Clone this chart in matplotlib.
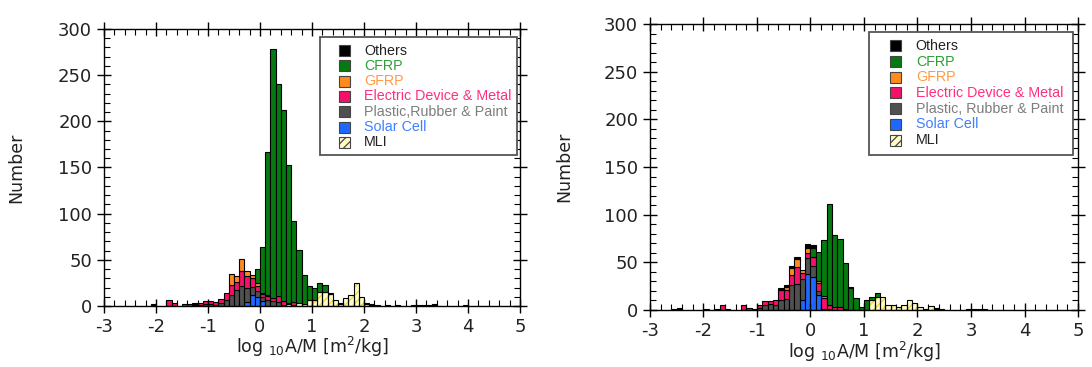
import numpy as np
import matplotlib.pyplot as plt
from matplotlib.patches import Rectangle
from matplotlib.ticker import MultipleLocator

plt.rcParams['font.family'] = ['DejaVu Sans']
plt.rcParams['axes.unicode_minus'] = False
plt.rcParams['hatch.linewidth'] = 0.9

# histogram bins of log10 A/M, width 0.1, from -3 to 5 (left edges)
edges = np.round(np.arange(-3.0, 5.0, 0.1), 1)

# ---- left panel: counts per bin (key = left edge of bin)
others_a = {-2.1: 2, -1.3: 1, 1.3: 1, 1.5: 1, 2.0: 1, 2.1: 1, 2.2: 1, 2.6: 1,
            2.9: 1, 3.0: 1, 3.1: 1, 3.2: 1, 3.3: 2, 3.9: 1}
cfrp_a = {-0.1: 15, 0.0: 50, 0.1: 155, 0.2: 269, 0.3: 229, 0.4: 207, 0.5: 150,
          0.6: 88, 0.7: 58, 0.8: 32, 0.9: 16, 1.0: 13, 1.1: 10, 1.2: 8, 2.4: 1}
gfrp_a = {-0.6: 12, -0.5: 7, -0.4: 13, -0.3: 6, -0.2: 4, -0.1: 3, 0.0: 1, 0.1: 1}
elec_a = {-1.8: 6, -1.7: 3, -1.5: 2, -1.4: 2, -1.3: 1, -1.2: 2, -1.1: 3, -1.0: 3,
          -0.9: 3, -0.8: 5, -0.7: 8, -0.6: 11, -0.5: 9, -0.4: 16, -0.3: 12,
          -0.2: 9, -0.1: 6, 0.0: 3, 0.1: 5, 0.2: 4, 0.3: 7, 0.4: 4, 0.6: 3}
plastic_a = {-1.3: 1, -1.2: 1, -1.1: 2, -1.0: 2, -0.9: 1, -0.8: 3, -0.7: 6,
             -0.6: 12, -0.5: 17, -0.4: 22, -0.3: 16, -0.2: 9, -0.1: 6, 0.0: 5,
             0.1: 6, 0.2: 5, 0.3: 4, 0.4: 1, 0.5: 1}
solar_a = {-0.3: 4, -0.2: 12, -0.1: 10, 0.0: 5}
mli_a = {0.5: 2, 0.6: 1, 0.7: 3, 0.8: 2, 0.9: 6, 1.0: 6, 1.1: 15, 1.2: 15, 1.3: 13,
         1.4: 7, 1.5: 2, 1.6: 9, 1.7: 12, 1.8: 25, 1.9: 10, 2.0: 2, 2.1: 1}

# ---- right panel
others_b = {-2.6: 1, -2.5: 2, -2.0: 1, -1.8: 1, -1.1: 1, -0.6: 2, -0.5: 2, -0.4: 2,
            -0.3: 3, -0.1: 4, 0.0: 3, 0.7: 1, 2.1: 1, 2.3: 1, 2.4: 1, 2.9: 1,
            3.0: 1, 3.1: 1, 3.2: 1}
cfrp_b = {0.0: 9, 0.1: 31, 0.2: 58, 0.3: 106, 0.4: 76, 0.5: 72, 0.6: 48, 0.7: 23,
          0.8: 13, 0.9: 3, 1.0: 10, 1.1: 4, 1.2: 4}
gfrp_b = {-0.5: 3, -0.4: 7, -0.3: 8, -0.2: 3, -0.1: 5, 0.1: 2, 0.2: 2}
elec_b = {-1.7: 5, -1.6: 1, -1.3: 5, -1.2: 2, -1.0: 3, -0.9: 4, -0.8: 3, -0.7: 6,
          -0.6: 10, -0.5: 9, -0.4: 11, -0.3: 18, -0.2: 6, -0.1: 5, 0.0: 10,
          0.1: 8, 0.2: 12, 0.3: 4, 0.4: 3, 0.5: 3}
plastic_b = {-1.0: 2, -0.9: 5, -0.8: 6, -0.7: 5, -0.6: 11, -0.5: 12, -0.4: 26,
             -0.3: 27, -0.2: 23, -0.1: 17, 0.0: 11, 0.1: 4, 0.2: 1, 0.3: 1, 0.6: 1}
solar_b = {-0.2: 10, -0.1: 38, 0.0: 35, 0.1: 16}
mli_b = {1.1: 10, 1.2: 14, 1.3: 14, 1.4: 5, 1.5: 5, 1.6: 3, 1.7: 5, 1.8: 10,
         1.9: 7, 2.0: 3, 2.2: 4, 2.3: 1}

# legend order (top to bottom); stacking goes the other way round
names = ['Others', 'CFRP', 'GFRP', 'Electric Device & Metal',
         'Plastic,Rubber & Paint', 'Solar Cell', 'MLI']
fill = ['#000000', '#067a10', '#ff8a1e', '#f5106a', '#505050', '#1f68ff', '#fffcc8']
txtcol = ['#222222', '#2f9e35', '#ff9a45', '#ff2f80', '#7d7d7d', '#3f7fff', '#222222']

data_a = [others_a, cfrp_a, gfrp_a, elec_a, plastic_a, solar_a, mli_a]
data_b = [others_b, cfrp_b, gfrp_b, elec_b, plastic_b, solar_b, mli_b]


def counts(d):
    arr = np.zeros(len(edges))
    for k, v in d.items():
        arr[int(round((k + 3.0) * 10))] = v
    return arr


def draw(ax, data, labels, box, sq, tx, row0, step, ylab_x):
    bottom = np.zeros(len(edges))
    for i in range(len(names) - 1, -1, -1):
        vals = counts(data[i])
        m = vals > 0
        if names[i] == 'MLI':
            ax.bar(edges[m], vals[m], 0.1, bottom=bottom[m], align='edge',
                   color=fill[i], edgecolor='#e8d830', hatch='////', linewidth=0)
            ax.bar(edges[m], vals[m], 0.1, bottom=bottom[m], align='edge',
                   fill=False, edgecolor='k', linewidth=0.8)
        else:
            ax.bar(edges[m], vals[m], 0.1, bottom=bottom[m], align='edge',
                   color=fill[i], edgecolor='k', linewidth=0.8)
        bottom += vals

    ax.set_xlim(-3, 5)
    ax.set_ylim(0, 300)
    ax.xaxis.set_major_locator(MultipleLocator(1))
    ax.xaxis.set_minor_locator(MultipleLocator(0.2))
    ax.yaxis.set_major_locator(MultipleLocator(50))
    ax.yaxis.set_minor_locator(MultipleLocator(10))
    ax.tick_params(which='major', direction='inout', length=10, width=1,
                   top=True, right=True, labelsize=13, labelcolor='#222222')
    ax.tick_params(which='minor', direction='in', length=4, width=0.8,
                   top=True, right=True)
    for s in ax.spines.values():
        s.set_linewidth(1)
    ax.set_ylabel('Number', fontsize=12.5, color='#222222')
    ax.yaxis.set_label_coords(ylab_x, 0.5)
    ax.set_xlabel(r'log $_{10}$A/M [m$^2$/kg]', fontsize=12.5, va='top',
                  color='#222222')
    ax.xaxis.set_label_coords(0.5, -0.105)

    # legend box drawn by hand
    x0, y0, x1, y1 = box
    ax.add_patch(Rectangle((x0, y0), x1 - x0, y1 - y0, transform=ax.transAxes,
                           facecolor='white', edgecolor='#555555', linewidth=1.3,
                           zorder=5))
    for i, lab in enumerate(labels):
        yc = row0 - i * step
        ax.add_patch(Rectangle((sq[0], yc - sq[2] / 2), sq[1], sq[2],
                               transform=ax.transAxes, facecolor=fill[i],
                               edgecolor='#444444', linewidth=0.8,
                               hatch='////' if names[i] == 'MLI' else None,
                               zorder=6))
        ax.text(tx, yc, lab, transform=ax.transAxes, color=txtcol[i],
                fontsize=10.3, va='center', ha='left', zorder=7,
                family=['Liberation Sans', 'DejaVu Sans'])


fig = plt.figure(figsize=(10.92, 3.67), dpi=100)
ax1 = fig.add_axes([0.0952, 0.1662, 0.381, 0.7548])
ax2 = fig.add_axes([0.5952, 0.1553, 0.392, 0.779])

labels_a = names
labels_b = names[:4] + ['Plastic, Rubber & Paint'] + names[5:]

draw(ax1, data_a, labels_a, (0.519, 0.545, 0.993, 0.971),
     (0.565, 0.0264, 0.0397), 0.625, 0.922, 0.0552, -0.19)
draw(ax2, data_b, labels_b, (0.512, 0.542, 0.988, 0.973),
     (0.561, 0.0257, 0.0385), 0.621, 0.924, 0.0549, -0.18)

fig.savefig('out.png', dpi=100)
